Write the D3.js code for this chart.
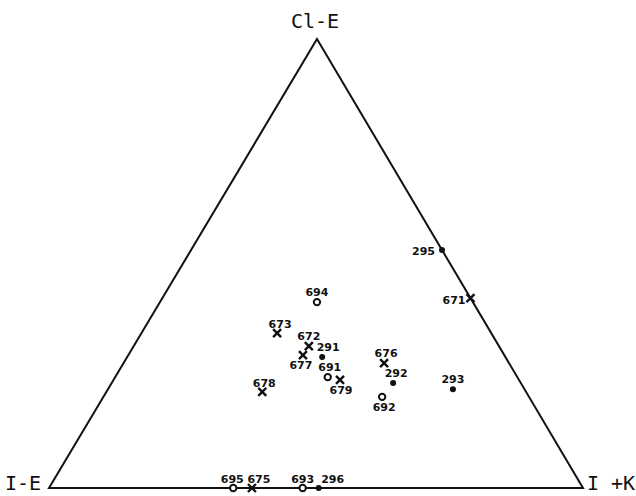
<!DOCTYPE html>
<html>
<head>
<meta charset="utf-8">
<script src="https://cdn.jsdelivr.net/npm/d3@7"></script>
<style>
  html, body { margin: 0; padding: 0; background: #fff; }
  svg { display: block; }
</style>
</head>
<body>
<script>
// Sample identifiers and ternary proportions (Cl-E, I+K, I-E)
const samples = ["295","671","293","694","673","672","677","291","691","679","678","676","292","692","695","675","693","296"];
const clE = [0.530,0.423,0.220,0.414,0.345,0.316,0.296,0.292,0.247,0.241,0.214,0.278,0.234,0.203,0,0,0,0];
const iK  = [0.470,0.577,0.646,0.294,0.254,0.328,0.327,0.365,0.398,0.424,0.292,0.488,0.527,0.522,0.345,0.380,0.475,0.505];
const iE  = [0,0,0.134,0.292,0.401,0.356,0.377,0.343,0.355,0.335,0.494,0.234,0.239,0.275,0.655,0.620,0.525,0.495];
const symbols = ["dot","cross","dot","circle","cross","cross","cross","dot","circle","cross","cross","cross","dot","circle","circle","cross","circle","dot"];
const vertexLabels = ["Cl-E", "I-E", "I +K"];

// Label placement relative to each marker: [dx, dy, anchor]
const labelPlace = [
  [-7, 5, "end"], [-5, 6, "end"], [0, -6, "middle"], [0, -6, "middle"],
  [3, -5, "middle"], [0, -6, "middle"], [-2, 14, "middle"], [6, -6, "middle"],
  [2, -6, "middle"], [1, 14, "middle"], [2, -5, "middle"], [2, -6, "middle"],
  [3, -6, "middle"], [2, 14, "middle"], [-1, -5, "middle"], [7, -5, "middle"],
  [0, -5, "middle"], [14, -5, "middle"]
];

const W = 636, H = 496;
const svg = d3.select("body").append("svg").attr("width", W).attr("height", H);

// Height scale for the apex component, base scale for the right-corner component
const yScale = d3.scaleLinear().domain([0, 1]).range([488, 39]);
const baseScale = d3.scaleLinear().domain([0, 1]).range([49, 583]);
const apexX = 317;

const L = [baseScale(0), yScale(0)];
const R = [baseScale(1), yScale(0)];
const T = [apexX, yScale(1)];

function project(a, b, c) {
  const s = a + b + c;
  a /= s; b /= s; c /= s;
  return [a * T[0] + b * R[0] + c * L[0], a * T[1] + b * R[1] + c * L[1]];
}

// Triangle frame
svg.append("path")
  .attr("d", d3.line()([T, R, L, T]) + "Z")
  .attr("fill", "none")
  .attr("stroke", "#111")
  .attr("stroke-width", 2)
  .attr("stroke-linejoin", "miter");

// Corner labels
const vfont = "'DejaVu Sans Mono', monospace";
svg.append("text").attr("x", 315).attr("y", 28).attr("text-anchor", "middle")
  .attr("font-family", vfont).attr("font-size", 20).attr("fill", "#111").text(vertexLabels[0]);
svg.append("text").attr("x", 5).attr("y", 490).attr("text-anchor", "start")
  .attr("font-family", vfont).attr("font-size", 20).attr("fill", "#111").text(vertexLabels[1]);
svg.append("text").attr("x", 587).attr("y", 490).attr("text-anchor", "start")
  .attr("font-family", vfont).attr("font-size", 20).attr("fill", "#111").text(vertexLabels[2]);

const pts = samples.map((id, i) => {
  const p = project(clE[i], iK[i], iE[i]);
  return { id, x: p[0], y: p[1], sym: symbols[i], lp: labelPlace[i] };
});

const g = svg.append("g");
pts.forEach(d => {
  if (d.sym === "dot") {
    g.append("circle").attr("cx", d.x).attr("cy", d.y).attr("r", 3).attr("fill", "#111");
  } else if (d.sym === "circle") {
    g.append("circle").attr("cx", d.x).attr("cy", d.y).attr("r", 3.2)
      .attr("fill", "#fff").attr("stroke", "#111").attr("stroke-width", 2);
  } else {
    const s = 4;
    g.append("path")
      .attr("d", `M${d.x - s},${d.y - s}L${d.x + s},${d.y + s}M${d.x - s},${d.y + s}L${d.x + s},${d.y - s}`)
      .attr("stroke", "#111").attr("stroke-width", 2.4).attr("fill", "none");
  }
  g.append("text")
    .attr("x", d.x + d.lp[0]).attr("y", d.y + d.lp[1])
    .attr("text-anchor", d.lp[2])
    .attr("font-family", "'DejaVu Sans', sans-serif")
    .attr("font-weight", "bold")
    .attr("font-size", 11)
    .attr("fill", "#111")
    .text(d.id);
});
</script>
</body>
</html>
